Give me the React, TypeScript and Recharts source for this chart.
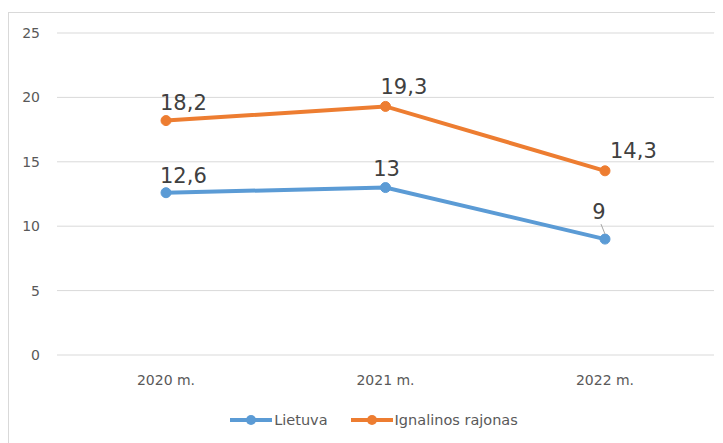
import { LineChart, Line, XAxis, YAxis, CartesianGrid, Legend, LabelList } from "recharts";

const years = ["2020 m.", "2021 m.", "2022 m."];
const lietuva = [12.6, 13, 9];
const ignalina = [18.2, 19.3, 14.3];
const yTicks = [0, 5, 10, 15, 20, 25];

const BLUE = "#5B9BD5";
const ORANGE = "#ED7D31";
const FONT = "'DejaVu Sans', sans-serif";

const chartData = years.map((year, i) => ({
  year,
  lietuva: lietuva[i],
  ignalina: ignalina[i],
}));

const fmt = (v: number) => String(v).replace(".", ",");

// label offsets per point (dx, baseline above point), roughly as in the picture
const blueOffsets = [
  { dx: -6, up: 10, anchor: "start" },
  { dx: 1, up: 12, anchor: "middle" },
  { dx: -6, up: 20, anchor: "middle", leader: true },
];
const orangeOffsets = [
  { dx: -6, up: 11, anchor: "start" },
  { dx: -5, up: 12, anchor: "start" },
  { dx: 5, up: 13, anchor: "start" },
];

function makeLabel(offsets: any[]) {
  return (props: any) => {
    const { x, y, value, index } = props;
    const o = offsets[index];
    return (
      <g>
        {o.leader && (
          <line x1={x - 4} y1={y - 15} x2={x} y2={y - 5} stroke="#A6A6A6" strokeWidth={1} />
        )}
        <text
          x={x + o.dx}
          y={y - o.up}
          textAnchor={o.anchor}
          fill="#404040"
          fontSize={21}
          fontFamily={FONT}
        >
          {fmt(value)}
        </text>
      </g>
    );
  };
}

function LegendContent() {
  const items = [
    { name: "Lietuva", color: BLUE },
    { name: "Ignalinos rajonas", color: ORANGE },
  ];
  return (
    <div style={{ display: "flex", justifyContent: "center", gap: 22, marginTop: 17, paddingLeft: 24, fontFamily: FONT, fontSize: 14.5, color: "#595959" }}>
      {items.map((it) => (
        <div key={it.name} style={{ display: "flex", alignItems: "center" }}>
          <svg width={44} height={12}>
            <line x1={1} y1={6} x2={43} y2={6} stroke={it.color} strokeWidth={4} />
            <circle cx={22} cy={6} r={5} fill={it.color} />
          </svg>
          <span style={{ marginLeft: 1 }}>{it.name}</span>
        </div>
      ))}
    </div>
  );
}

export default function App() {
  return (
    <div
      style={{
        marginTop: 4,
        width: 718,
        height: 438,
        border: "1px solid #D9D9D9",
        background: "#fff",
      }}
    >
      <LineChart
        width={718}
        height={438}
        data={chartData}
        margin={{ top: 20, right: 13, left: 0, bottom: 20 }}
      >
        <CartesianGrid vertical={false} stroke="#D9D9D9" />
        <XAxis
          dataKey="year"
          axisLine={false}
          tickLine={false}
          tickSize={0}
          tickMargin={20}
          height={40}
          padding={{ left: 109, right: 109 }}
          tick={{ fontSize: 14, fill: "#595959", fontFamily: FONT }}
        />
        <YAxis
          domain={[0, 25]}
          ticks={yTicks}
          axisLine={false}
          tickLine={false}
          tickSize={0}
          tickMargin={17}
          width={48}
          tick={{ fontSize: 14, fill: "#595959", fontFamily: FONT }}
        />
        <Legend verticalAlign="bottom" height={36} content={<LegendContent />} />
        <Line
          dataKey="lietuva"
          name="Lietuva"
          stroke={BLUE}
          strokeWidth={4}
          dot={{ r: 5, fill: BLUE, stroke: BLUE, strokeWidth: 1 }}
          isAnimationActive={false}
        >
          <LabelList dataKey="lietuva" content={makeLabel(blueOffsets)} />
        </Line>
        <Line
          dataKey="ignalina"
          name="Ignalinos rajonas"
          stroke={ORANGE}
          strokeWidth={4}
          dot={{ r: 5, fill: ORANGE, stroke: ORANGE, strokeWidth: 1 }}
          isAnimationActive={false}
        >
          <LabelList dataKey="ignalina" content={makeLabel(orangeOffsets)} />
        </Line>
      </LineChart>
    </div>
  );
}
